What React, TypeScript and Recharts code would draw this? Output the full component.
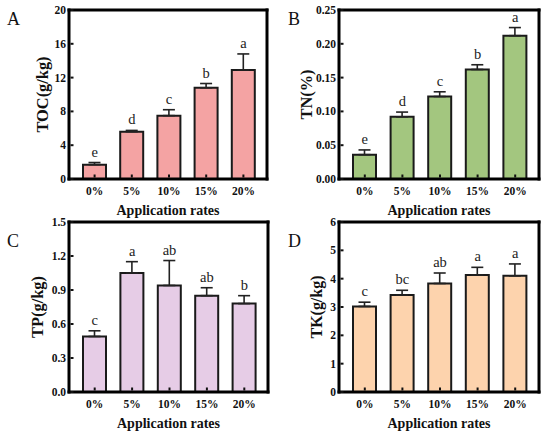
import React from 'react';
import { ComposedChart, Bar, Line, XAxis, YAxis, ErrorBar, LabelList, Label, CartesianGrid } from 'recharts';

const rates = ['0%', '5%', '10%', '15%', '20%'];

const tocMean = [1.7, 5.6, 7.5, 10.8, 12.9];
const tocErr = [0.25, 0.15, 0.7, 0.5, 1.9];
const tocLetters = ['e', 'd', 'c', 'b', 'a'];
const tocTicks = [0, 4, 8, 12, 16, 20];

const tnMean = [0.036, 0.092, 0.122, 0.162, 0.212];
const tnErr = [0.007, 0.007, 0.007, 0.007, 0.012];
const tnLetters = ['e', 'd', 'c', 'b', 'a'];
const tnTicks = [0, 0.05, 0.1, 0.15, 0.2, 0.25];

const tpMean = [0.49, 1.05, 0.94, 0.85, 0.78];
const tpErr = [0.05, 0.1, 0.22, 0.07, 0.07];
const tpLetters = ['c', 'a', 'ab', 'ab', 'b'];
const tpTicks = [0, 0.3, 0.6, 0.9, 1.2, 1.5];

const tkMean = [3.02, 3.42, 3.83, 4.13, 4.1];
const tkErr = [0.15, 0.17, 0.37, 0.27, 0.42];
const tkLetters = ['c', 'bc', 'ab', 'a', 'a'];
const tkTicks = [0, 1, 2, 3, 4, 5, 6];

const FONT = '"Liberation Serif", "Times New Roman", serif';
const BOLD = { fontFamily: FONT, fontWeight: 700 as const };

type Box = { left: number; top: number; w: number; h: number };
type Frame = { x0: number; x1: number; y0: number; y1: number };

function buildRows(mean: number[], err: number[], letters: string[]) {
  return rates.map((rate, i) => ({
    rate,
    mean: mean[i],
    err: [0, err[i]],
    top: mean[i] + err[i],
    letter: letters[i],
  }));
}

function XTick(props: any) {
  const { x, y, payload } = props;
  return (
    <g>
      <line x1={x} x2={x} y1={y - 1.5} y2={y - 4.5} stroke="#111" strokeWidth={2} />
      <text x={x} y={y + 16} textAnchor="middle" fill="#111" style={{ ...BOLD, fontSize: 11.5 }}>
        {payload.value}
      </text>
    </g>
  );
}

function makeYTick(digits: number) {
  return function YTick(props: any) {
    const { x, y, payload } = props;
    return (
      <g>
        <line x1={x + 1.5} x2={x + 4.5} y1={y} y2={y} stroke="#111" strokeWidth={2} />
        <text x={x - 3} y={y + 4} textAnchor="end" fill="#111" style={{ ...BOLD, fontSize: 11.5 }}>
          {Number(payload.value).toFixed(digits)}
        </text>
      </g>
    );
  };
}

function Panel({
  box, frame, rows, color, ticks, digits, yTitle, yTitleLen, titleX, tag, tagX, tagY,
}: {
  box: Box; frame: Frame; rows: any[]; color: string; ticks: number[]; digits: number;
  yTitle: string; yTitleLen: number; titleX: number; tag: string; tagX: number; tagY: number;
}) {
  const yAxisWidth = frame.x0 - box.left;
  const xAxisHeight = box.top + box.h - frame.y1;
  const margin = { top: frame.y0 - box.top, right: box.left + box.w - frame.x1, bottom: 0, left: 0 };
  const domain = [ticks[0], ticks[ticks.length - 1]];
  const frameLine = { stroke: '#000', strokeWidth: 3, strokeLinecap: 'square' as const };
  const cxLocal = (frame.x0 + frame.x1) / 2 - box.left;
  const xTitleY = frame.y1 - box.top + 36;
  const yTitleX = titleX - box.left + 5;
  const yTitleY = (frame.y0 + frame.y1) / 2 - box.top;

  return (
    <div style={{ position: 'absolute', left: box.left, top: box.top, width: box.w, height: box.h }}>
      <div
        style={{
          position: 'absolute', left: tagX - box.left, top: tagY - box.top,
          fontFamily: FONT, fontSize: 18, lineHeight: '18px', color: '#111',
        }}
      >
        {tag}
      </div>
      <ComposedChart width={box.w} height={box.h} data={rows} margin={margin}>
        <CartesianGrid
          horizontalPoints={[frame.y0 - box.top]}
          verticalPoints={[frame.x1 - box.left]}
          stroke="#000"
          strokeWidth={3}
          strokeLinecap="square"
        />
        <XAxis
          dataKey="rate"
          height={xAxisHeight}
          padding={{ left: 7, right: 5 }}
          tickSize={0}
          tickMargin={0}
          tickLine={false}
          axisLine={frameLine}
          tick={<XTick />}
          interval={0}
        >
          <Label
            content={() => (
              <text
                x={cxLocal}
                y={xTitleY}
                textAnchor="middle"
                fill="#111"
                textLength={103}
                lengthAdjust="spacingAndGlyphs"
                style={{ ...BOLD, fontSize: 14 }}
              >
                Application rates
              </text>
            )}
          />
        </XAxis>
        <YAxis
          width={yAxisWidth}
          domain={domain}
          ticks={ticks}
          interval={0}
          tickSize={0}
          tickMargin={0}
          tickLine={false}
          axisLine={frameLine}
          tick={React.createElement(makeYTick(digits))}
          allowDataOverflow
        >
          <Label
            content={() => (
              <text
                x={yTitleX}
                y={yTitleY}
                transform={`rotate(-90 ${yTitleX} ${yTitleY})`}
                textAnchor="middle"
                fill="#111"
                textLength={yTitleLen}
                lengthAdjust="spacingAndGlyphs"
                style={{ ...BOLD, fontSize: 16 }}
              >
                {yTitle}
              </text>
            )}
          />
        </YAxis>
        <Bar dataKey="mean" fill={color} stroke="#1a1a1a" strokeWidth={2} barSize={23} isAnimationActive={false}>
          <ErrorBar dataKey="err" direction="y" width={6} stroke="#222" strokeWidth={1.6} />
        </Bar>
        <Line dataKey="top" stroke="none" dot={false} activeDot={false} isAnimationActive={false} legendType="none">
          <LabelList
            dataKey="letter"
            position="top"
            offset={6}
            fill="#222"
            style={{ fontFamily: FONT, fontSize: 14.5 }}
          />
        </Line>
      </ComposedChart>
    </div>
  );
}

export default function App() {
  return (
    <div style={{ position: 'absolute', left: 0, top: 0, width: 550, height: 438, background: '#fff' }}>
      <style>{'.recharts-surface{overflow:visible}'}</style>
      <Panel
        box={{ left: 0, top: 0, w: 275, h: 219 }}
        frame={{ x0: 69, x1: 267, y0: 10, y1: 179 }}
        rows={buildRows(tocMean, tocErr, tocLetters)}
        color="#F4A3A3"
        ticks={tocTicks}
        digits={0}
        yTitle="TOC(g/kg)"
        yTitleLen={76}
        titleX={43}
        tag="A"
        tagX={7}
        tagY={10}
      />
      <Panel
        box={{ left: 275, top: 0, w: 275, h: 219 }}
        frame={{ x0: 339, x1: 539, y0: 10, y1: 179 }}
        rows={buildRows(tnMean, tnErr, tnLetters)}
        color="#A3C67F"
        ticks={tnTicks}
        digits={2}
        yTitle="TN(%)"
        yTitleLen={50}
        titleX={307}
        tag="B"
        tagX={288}
        tagY={10}
      />
      <Panel
        box={{ left: 0, top: 219, w: 275, h: 219 }}
        frame={{ x0: 69, x1: 268, y0: 222, y1: 392 }}
        rows={buildRows(tpMean, tpErr, tpLetters)}
        color="#E6CCE6"
        ticks={tpTicks}
        digits={1}
        yTitle="TP(g/kg)"
        yTitleLen={62}
        titleX={38}
        tag="C"
        tagX={7}
        tagY={232}
      />
      <Panel
        box={{ left: 275, top: 219, w: 275, h: 219 }}
        frame={{ x0: 339, x1: 539, y0: 222, y1: 392 }}
        rows={buildRows(tkMean, tkErr, tkLetters)}
        color="#FDD3AD"
        ticks={tkTicks}
        digits={0}
        yTitle="TK(g/kg)"
        yTitleLen={63}
        titleX={317}
        tag="D"
        tagX={288}
        tagY={232}
      />
    </div>
  );
}
